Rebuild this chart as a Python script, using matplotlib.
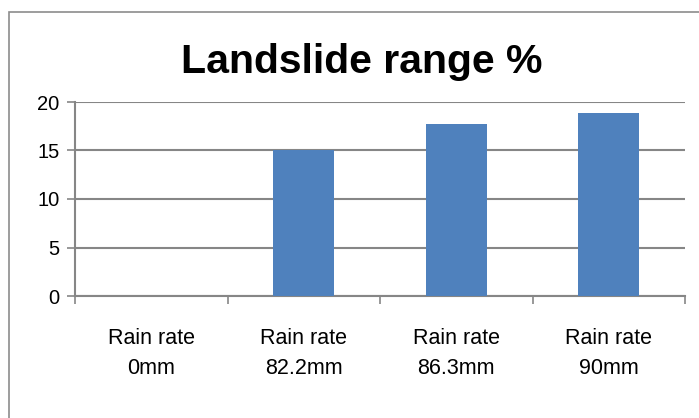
import matplotlib.pyplot as plt
from matplotlib.patches import Rectangle

categories = ["Rain rate\n0mm", "Rain rate\n82.2mm", "Rain rate\n86.3mm", "Rain rate\n90mm"]
values = [0, 15, 17.7, 18.9]
yticks = [0, 5, 10, 15, 20]

FONT = ["Liberation Sans Narrow", "Liberation Sans", "DejaVu Sans"]
plt.rcParams["font.family"] = FONT

fig = plt.figure(figsize=(6.99, 4.18), dpi=100)
fig.patches.append(Rectangle((9 / 699, -0.05), 1.1, 1 - 12 / 418 + 0.05,
                             transform=fig.transFigure, fill=False,
                             edgecolor="#8c8c8c", linewidth=1.2))

ax = fig.add_axes([75 / 699, 1 - 296 / 418, 610 / 699, 194 / 418])
x = range(len(categories))
ax.bar(x, values, width=0.4, color="#4F81BD", zorder=3)

ax.set_xlim(-0.5, len(categories) - 0.5)
ax.set_ylim(0, 20)
ax.set_yticks(yticks)
ax.set_yticklabels([str(t) for t in yticks], fontsize=14.5)
ax.yaxis.grid(True, color="#868686", linewidth=1.5, zorder=0)

ax.set_xticks([i - 0.5 for i in range(len(categories) + 1)])
ax.set_xticklabels([])
ax.set_xticks(list(x), minor=True)
ax.set_xticklabels(categories, minor=True, fontsize=15.5, linespacing=1.55)
ax.tick_params(axis="x", which="minor", length=0, pad=23)
ax.tick_params(axis="x", which="major", length=6, color="#868686", width=1.2)
ax.tick_params(axis="y", length=6, color="#868686", width=1.2, pad=5)

for s in ["top", "right"]:
    ax.spines[s].set_visible(False)
for s in ["left", "bottom"]:
    ax.spines[s].set_color("#868686")
    ax.spines[s].set_linewidth(1.5)

fig.text(362 / 699, 1 - 62 / 418, "Landslide range %", fontsize=29.5,
         fontweight="bold", ha="center", va="center")

fig.savefig("out.png", dpi=100)
